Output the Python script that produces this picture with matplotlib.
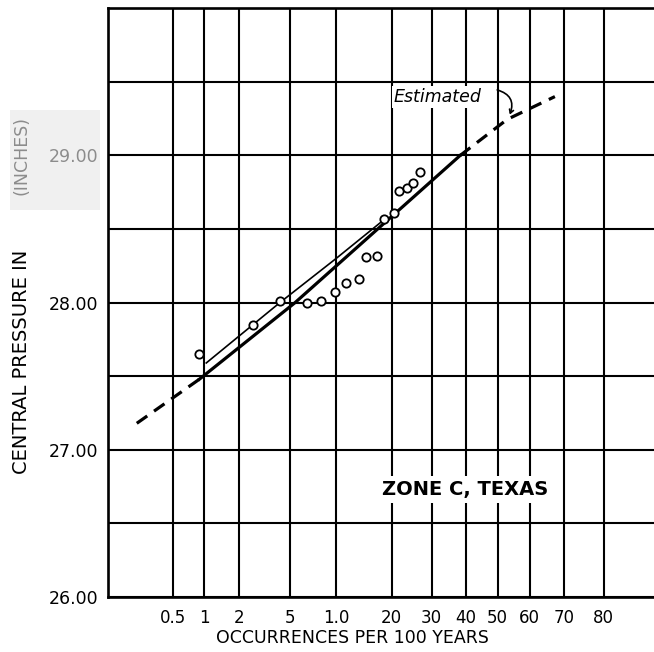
import math
import numpy as np
import matplotlib
matplotlib.use('Agg')
import matplotlib.pyplot as plt
from matplotlib.patches import Rectangle

# observed hurricanes, Zone C Texas (percent of occurrences per 100 yrs vs pressure)
pct_obs = [0.89, 2.63, 4.22, 6.5, 8.1, 9.9, 11.4, 13.5, 14.9, 17.0,
           18.3, 20.6, 21.7, 23.5, 25.0, 26.9]
press_obs = [27.65, 27.85, 28.01, 28.00, 28.01, 28.07, 28.13, 28.16, 28.31, 28.32,
             28.57, 28.61, 28.76, 28.78, 28.815, 28.885]

# fitted curves
fit_pct = [0.9, 5.4, 38.3]
fit_press = [27.48, 28.0, 29.0]
thin_pct = [1.04, 4.2, 10.0, 19.0]
thin_press = [27.59, 28.0, 28.30, 28.58]
est_lo_pct = [0.21, 0.9]
est_lo_press = [27.18, 27.48]
est_hi_pct = [38.3, 53.0, 67.5]
est_hi_press = [29.0, 29.245, 29.40]

xticks = [0.5, 1, 2, 5, 10, 20, 30, 40, 50, 60, 70, 80]
xlabels = ['0.5', '1', '2', '5', '1.0', '20', '30', '40', '50', '60', '70', '80']
yticks = [26.0, 26.5, 27.0, 27.5, 28.0, 28.5, 29.0, 29.5]
ylabels = ['26.00', '', '27.00', '', '28.00', '', '29.00', '']

_erf = np.vectorize(math.erf, otypes=[float])


def norm_cdf(z):
    return 0.5 * (1.0 + _erf(np.asarray(z, float) / math.sqrt(2.0)))


def prob_fwd(p):
    """percent -> normal quantile (bisection, good enough for plotting)"""
    p = np.clip(np.asarray(p, float) / 100.0, 1e-9, 1 - 1e-9)
    lo = np.full(p.shape, -8.0)
    hi = np.full(p.shape, 8.0)
    for _ in range(55):
        mid = 0.5 * (lo + hi)
        below = norm_cdf(mid) < p
        lo = np.where(below, mid, lo)
        hi = np.where(below, hi, mid)
    return 0.5 * (lo + hi)


def prob_inv(z):
    return 100.0 * norm_cdf(z)


fig = plt.figure(figsize=(6.54, 6.52), dpi=100)

# faint grey smudge behind "(INCHES)" / "29.00" on the scanned sheet
fig.patches.append(Rectangle((10 / 654, 1 - 210 / 652), 90 / 654, 100 / 652,
                             transform=fig.transFigure, facecolor='#f0f0f0',
                             edgecolor='none', zorder=-5))

ax = fig.add_axes([0.1657, 0.0844, 0.8343, 0.9029])
ax.patch.set_alpha(0)

ax.set_xscale('function', functions=(prob_fwd, prob_inv))
ax.set_xlim(0.1007, 89.25)
ax.set_ylim(26.0, 30.0)

ax.set_xticks(xticks)
ax.set_xticklabels(xlabels)
ax.set_yticks(yticks)
ax.set_yticklabels(ylabels)
ax.minorticks_off()
ax.tick_params(axis='x', length=0, pad=9, labelsize=12)
ax.tick_params(axis='y', length=0, pad=7, labelsize=12.5)
ax.get_yticklabels()[6].set_color('#8c8c8c')

ax.set_axisbelow(True)
ax.grid(True, color='black', linewidth=1.5)
for side in ['left', 'top', 'bottom']:
    ax.spines[side].set_linewidth(1.9)
ax.spines['right'].set_visible(False)

# curves
ax.plot(fit_pct, fit_press, color='black', linewidth=2.3, zorder=3)
ax.plot(thin_pct, thin_press, color='black', linewidth=1.2, zorder=3)
ax.plot(est_lo_pct, est_lo_press, color='black', linewidth=2.3,
        dashes=(4, 2.6), zorder=3)
ax.plot(est_hi_pct, est_hi_press, color='black', linewidth=2.3,
        dashes=(4, 2.6), zorder=3)
ax.plot(pct_obs, press_obs, 'o', markersize=6, markerfacecolor='white',
        markeredgecolor='black', markeredgewidth=1.3, zorder=4)

# annotations
ax.text(20.5, 29.40, 'Estimated', fontsize=12.5, style='italic',
        ha='left', va='center', zorder=5,
        bbox=dict(facecolor='white', edgecolor='none', pad=1.5))
ax.annotate('', xy=(53.5, 29.26), xytext=(49.0, 29.45),
            arrowprops=dict(arrowstyle='->,head_length=0.25,head_width=0.15',
                            connectionstyle='arc3,rad=-0.6',
                            color='black', linewidth=1.2), zorder=5)
ax.text(17.9, 26.73, 'ZONE C, TEXAS', fontsize=14, fontweight='bold',
        ha='left', va='center', zorder=5,
        bbox=dict(facecolor='white', edgecolor='none', pad=3))

# axis titles (placed by hand like the original sheet)
fig.text(22 / 654, 1 - 362 / 652, 'CENTRAL PRESSURE IN', rotation=90,
         fontsize=14, ha='center', va='center')
fig.text(22 / 654, 1 - 156 / 652, '(INCHES)', rotation=90, color='#8c8c8c',
         fontsize=12.5, ha='center', va='center')
fig.text(352 / 654, 1 - 638 / 652, 'OCCURRENCES PER 100 YEARS',
         fontsize=12.5, ha='center', va='center')

fig.savefig('out.png', dpi=100)
